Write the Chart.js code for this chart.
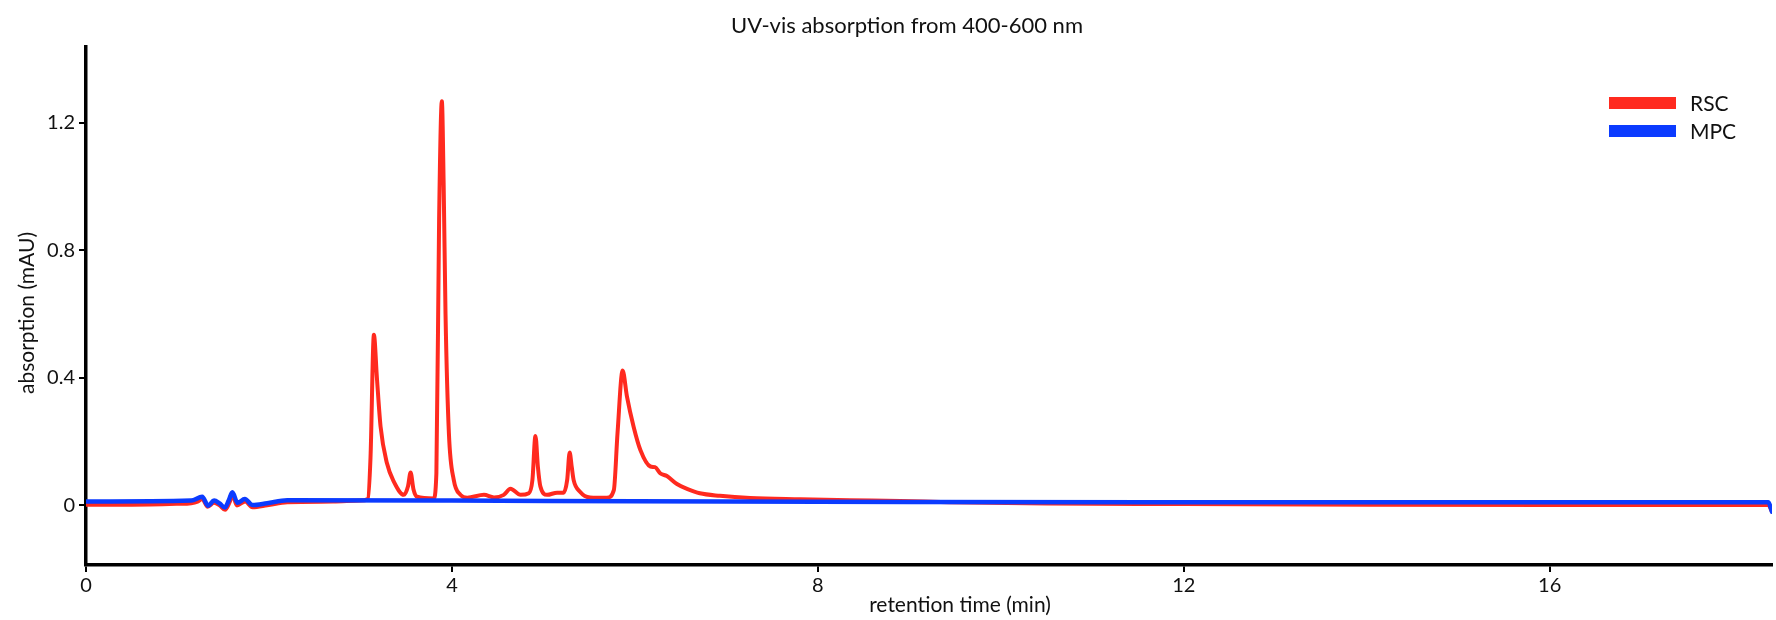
<!DOCTYPE html>
<html>
<head>
<meta charset="utf-8">
<title>UV-vis absorption</title>
<script src="https://cdn.jsdelivr.net/npm/chart.js@4.4.1/dist/chart.umd.min.js"></script>
<style>
  html, body { margin: 0; padding: 0; background: #fff; }
  #chart { display: block; }
</style>
</head>
<body>
<canvas id="chart" width="1776" height="620"></canvas>
<script>
// Chromatogram, absorption 400-600 nm, two samples.
const CHART_TITLE = "UV-vis absorption from 400-600 nm";
const X_TITLE = "retention time (min)";
const Y_TITLE = "absorption (mAU)";

const xTicks = [0, 4, 8, 12, 16];
const yTicks = [0, 0.4, 0.8, 1.2];

const rscTime = [
  0, 0.5, 1.0, 1.15, 1.22, 1.27, 1.33, 1.40, 1.46, 1.52, 1.57, 1.60, 1.65, 1.74, 1.82, 1.98,
  2.2, 2.7, 3.0, 3.08, 3.11, 3.147, 3.18, 3.22, 3.29, 3.366, 3.475, 3.52, 3.548, 3.58, 3.62,
  3.80, 3.83, 3.86, 3.89, 3.91, 3.93, 3.967, 4.02, 4.094, 4.167, 4.35, 4.46, 4.567, 4.64,
  4.75, 4.84, 4.88, 4.913, 4.94, 4.967, 5.04, 5.15, 5.22, 5.26, 5.287, 5.31, 5.33, 5.40,
  5.51, 5.695, 5.77, 5.81, 5.866, 5.913, 5.986, 6.06, 6.17, 6.22, 6.28, 6.35, 6.46, 6.57,
  6.71, 6.93, 7.26, 7.81, 8.35, 8.90, 9.43, 10.5, 12, 14, 16, 18.39, 18.43,
];
const rscAbs = [
  0.002, 0.002, 0.005, 0.007, 0.012, 0.02, -0.004, 0.008, 0.0, -0.014, 0.01, 0.033, 0.0, 0.012, -0.006, 0.0,
  0.01, 0.012, 0.015, 0.02, 0.15, 0.535, 0.40, 0.247, 0.132, 0.074, 0.033, 0.06, 0.103, 0.05, 0.027,
  0.022, 0.1, 0.9, 1.268, 1.0, 0.6, 0.226, 0.08, 0.033, 0.024, 0.033, 0.025, 0.033, 0.052,
  0.033, 0.038, 0.08, 0.218, 0.12, 0.059, 0.033, 0.04, 0.04, 0.08, 0.166, 0.12, 0.08, 0.043,
  0.025, 0.024, 0.048, 0.226, 0.423, 0.342, 0.247, 0.174, 0.122, 0.12, 0.10, 0.092, 0.067, 0.052,
  0.038, 0.03, 0.023, 0.019, 0.016, 0.014, 0.01, 0.006, 0.004, 0.002, 0.001, 0.001, -0.02,
];

const mpcTime = [
  0, 1.15, 1.27, 1.335, 1.40, 1.46, 1.517, 1.56, 1.60, 1.656, 1.736, 1.82, 1.98,
  2.2, 4, 6, 9, 12, 18.39, 18.43,
];
const mpcAbs = [
  0.012, 0.015, 0.027, -0.001, 0.015, 0.006, -0.007, 0.015, 0.041, 0.008, 0.02, 0.001, 0.007,
  0.016, 0.015, 0.013, 0.011, 0.01, 0.01, -0.02,
];

const RED = "#ff2a1f";
const BLUE = "#0b3bff";
const FONT = "Lato, 'Open Sans', sans-serif";

function toPoints(xs, ys) {
  return xs.map((x, i) => ({ x, y: ys[i] }));
}

// titles and legend sit at fixed spots like the original figure
const overlay = {
  id: "overlay",
  afterDraw(chart) {
    const ctx = chart.ctx;
    ctx.save();
    ctx.fillStyle = "#111";
    ctx.textBaseline = "middle";
    ctx.textAlign = "center";
    ctx.font = `22px ${FONT}`;
    ctx.fillText(CHART_TITLE, 907, 26);
    ctx.font = `21px ${FONT}`;
    ctx.fillText(X_TITLE, 960, 605);
    ctx.save();
    ctx.translate(27, 313);
    ctx.rotate(-Math.PI / 2);
    ctx.fillText(Y_TITLE, 0, 0);
    ctx.restore();

    const items = [
      { label: "RSC", color: RED },
      { label: "MPC", color: BLUE },
    ];
    ctx.textAlign = "left";
    ctx.font = `21px ${FONT}`;
    items.forEach((it, i) => {
      const cy = 103 + i * 28;
      ctx.fillStyle = it.color;
      ctx.fillRect(1609, cy - 6, 67, 12);
      ctx.fillStyle = "#111";
      ctx.fillText(it.label, 1690, cy + 1);
    });
    ctx.restore();
  },
};

new Chart(document.getElementById("chart"), {
  type: "line",
  data: {
    datasets: [
      { label: "MPC", data: toPoints(mpcTime, mpcAbs), borderColor: BLUE, borderWidth: 4.5 },
      { label: "RSC", data: toPoints(rscTime, rscAbs), borderColor: RED, borderWidth: 4 },
    ],
  },
  options: {
    responsive: false,
    animation: false,
    devicePixelRatio: 1,
    layout: { padding: { top: 47, right: 4, left: 0, bottom: 0 } },
    elements: {
      point: { radius: 0 },
      line: { cubicInterpolationMode: "monotone", fill: false, borderJoinStyle: "round", borderCapStyle: "round" },
    },
    plugins: { legend: { display: false }, tooltip: { enabled: false }, title: { display: false } },
    scales: {
      x: {
        type: "linear",
        min: 0,
        max: 18.43,
        afterBuildTicks: (scale) => { scale.ticks = xTicks.map((v) => ({ value: v })); },
        afterFit: (scale) => { scale.height = 55; },
        grid: { drawOnChartArea: false, color: "#000", lineWidth: 2, tickLength: 7 },
        border: { color: "#000", width: 3.5 },
        ticks: { color: "#111", font: { family: FONT, size: 20 }, padding: 2, maxRotation: 0 },
      },
      y: {
        min: -0.187,
        max: 1.438,
        afterBuildTicks: (scale) => { scale.ticks = yTicks.map((v) => ({ value: v })); },
        afterFit: (scale) => { scale.width = 86; },
        grid: { drawOnChartArea: false, color: "#000", lineWidth: 2, tickLength: 7 },
        border: { color: "#000", width: 3.5 },
        ticks: {
          color: "#111",
          font: { family: FONT, size: 20 },
          padding: 4,
          callback: (v) => (v === 0 ? "0" : v.toFixed(1)),
        },
      },
    },
  },
  plugins: [overlay],
});
</script>
</body>
</html>
